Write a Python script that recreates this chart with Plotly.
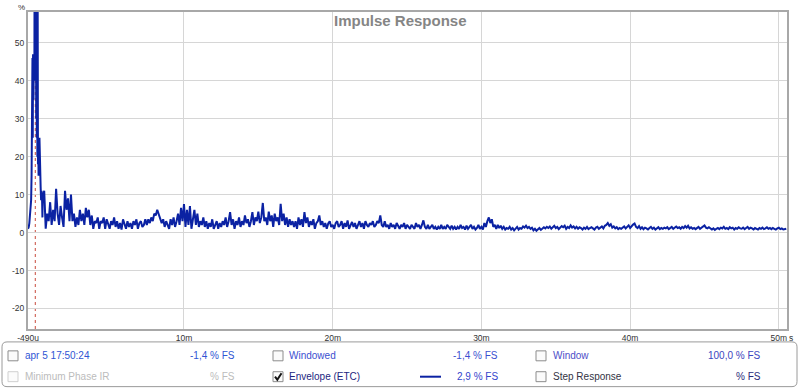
import plotly.graph_objects as go

# ---------------- data ----------------
# time in ms, envelope in %
EARLY_T = [-0.49, -0.44, -0.40, -0.36, -0.32, -0.28, -0.25, -0.23, -0.21, -0.19,
           -0.17, -0.15, -0.12, -0.10, -0.08, -0.06, -0.04, -0.02, 0.00, 0.02,
           0.04, 0.06, 0.08, 0.10, 0.12, 0.14, 0.16, 0.18, 0.20, 0.22,
           0.24, 0.26, 0.28, 0.30, 0.32, 0.34, 0.36, 0.39, 0.42, 0.45, 0.48]
EARLY_V = [1.0, 1.5, 2.5, 4.0, 6.0, 8.5, 15.0, 46.0, 30.0, 46.0,
           25.0, 47.0, 35.0, 46.0, 70.0, 40.0, 95.0, 50.0, 110.0, 45.0,
           90.0, 30.0, 80.0, 25.0, 70.0, 20.0, 62.0, 18.0, 24.0, 15.0,
           24.0, 16.0, 25.0, 18.0, 23.0, 14.0, 12.0, 8.5, 11.0, 10.0, 4.0]

NOISE_T0 = 0.5   # ms, first sample of the tail
NOISE_DT = 0.1   # ms, sample spacing of the tail
NOISE_V = [
    9, 11, 1, 5, 3, 8, 2, 6, 3, 11.5,
    5, 2, 7, 4, 1.5, 11, 6, 9, 3, 10,
    3, 5, 1.5, 4, 2, 6, 3, 5, 2, 6.5,
    4, 6, 2, 4.5, 1, 3, 2.5, 4, 1, 3,
    2.5, 4, 1, 3.5, 2, 1, 3, 2, 4, 1.5,
    3, 1, 2.5, 0.8, 3.5, 2, 1, 3, 1.5, 2.5,
    1, 3, 2, 3.5, 1, 2.5, 3, 1.5, 2, 3.5,
    2, 3.5, 2.5, 4, 3, 5, 4.5, 6, 5, 3.5,
    2.5, 3.5, 1.5, 3, 2, 1, 3.5, 2, 4, 1.5,
    3, 5, 2, 6.5, 3, 7.5, 1.5, 6, 2, 7,
    1, 4, 6, 2, 5, 1.5, 3, 2, 4, 1.5,
    3, 1, 2.5, 1.5, 3.5, 1, 2, 3, 1, 2.5,
    1.5, 3, 2, 4, 1.5, 3, 5.4, 2, 3.5, 1,
    3, 2, 4, 1.5, 3, 2, 4.5, 2.5, 3.5, 1.5,
    3, 5.4, 2, 4, 3, 5.5, 2.5, 4, 7.8, 3,
    4, 2, 5.5, 3, 4.5, 1.5, 5, 3, 4, 2,
    7.6, 3, 5, 2, 4, 1.5, 3.5, 2, 3, 1.5,
    3, 1, 4, 2, 3.5, 1.5, 5.4, 2.5, 4, 1.5,
    3, 2, 3.5, 1, 2.5, 3, 4.5, 2, 3, 1.5,
    2.5, 1, 2.4, 3, 1.5, 2, 1, 2.5, 3, 1.5,
    2, 3, 1, 2.5, 1.5, 3.2, 1, 2, 2.8, 1.5,
    2.5, 1, 2, 3, 1.5, 2.5, 1, 3, 2, 1.5,
    2.5, 2, 3, 1.5, 2, 3, 2.5, 4.5, 2, 1.5,
    3, 1.5, 2, 1, 2.5, 1.5, 2, 1, 2.5, 1.5,
    1, 2, 1.5, 2.5, 1, 2, 1.5, 1, 2, 1.5,
    1, 2.5, 1.5, 2, 1, 2, 3.2, 1.5, 1, 2,
    1, 1.5, 2, 1, 1.5, 0.8, 1.5, 1, 2, 1,
    1.5, 1, 2, 1.5, 1, 1.8, 1, 1.5, 0.8, 1.5,
    1, 2, 1.2, 1.5, 0.8, 1.8, 1, 1.5, 2, 1,
    1.5, 0.8, 1.2, 2, 1, 1.5, 0.8, 2.5, 1.5, 3,
    4, 2.5, 3.5, 1.5, 2, 1, 2, 1.2, 1.8, 1,
    1.5, 0.8, 1.2, 1, 1.5, 0.8, 1.2, 0.6, 1, 1.5,
    0.8, 1.2, 1, 1.6, 1.3, 1.8, 1.2, 1.5, 1, 1.3,
    0.6, 1, 0.5, 0.8, 1.2, 0.7, 1, 1.4, 1.1, 1.5,
    1.2, 1.6, 1, 1.4, 1.8, 1.2, 1.5, 0.9, 1.3, 1.7,
    1.4, 1.8, 1, 1.5, 1.2, 1.9, 1.3, 1.6, 1.1, 1.5,
    1, 1.4, 1.2, 0.8, 1.3, 1, 1.5, 0.9, 1.2, 1.4,
    1.1, 0.8, 1.3, 1.5, 1, 1.2, 1.6, 1.1, 1.8, 2,
    2.5, 1.8, 2.2, 1.3, 1.6, 1.1, 1.4, 0.9, 1.2, 1,
    1.3, 1.6, 1.1, 1.5, 1.9, 1.2, 1.8, 2.1, 2.4, 1.5,
    1.2, 1.7, 1, 1.4, 0.9, 1.3, 1.1, 0.8, 1.2, 1.5,
    1, 1.3, 0.8, 1.1, 1.4, 0.9, 1.2, 1, 1.3, 1.1,
    1.4, 0.9, 1.2, 1.5, 1, 1.3, 1.6, 1.2, 1.4, 1,
    1.5, 1.2, 1.7, 1.3, 1.8, 1.1, 1.4, 1, 1.2, 0.9,
    1.2, 1.5, 1, 1.3, 1.6, 1.9, 1.3, 1.1, 1.4, 1,
    0.8, 1.1, 0.7, 1, 1.2, 0.9, 1.3, 1.1, 1.5, 1,
    1.2, 0.9, 1.4, 1.1, 1.3, 0.8, 1.2, 1, 1.4, 1.1,
    1, 1.3, 0.9, 1.2, 1.5, 1, 1.3, 1.1, 0.8, 1.2,
    1.1, 0.8, 1.2, 1, 1.3, 0.9, 1.1, 1.4, 1, 1.2,
    0.9, 1.2, 1, 0.8, 1.1, 1.3, 0.9, 1.1, 0.8, 1,
    1,
]

X_TICKS = [-0.49, 10, 20, 30, 40, 50]
X_LABELS = ["-490u", "10m", "20m", "30m", "40m", "50m"]
Y_TICKS = [-20, -10, 0, 10, 20, 30, 40, 50]
Y_LABELS = ["-20", "-10", "0", "10", "20", "30", "40", "50"]
X_RANGE = [-0.49, 50.55]
Y_RANGE = [-25.4, 58.1]
MARKER_T = 0.0  # red dotted time-reference line

TITLE = "Impulse Response"

# legend panel texts: (text, row, column-anchor pixel x, anchor, colour)
LEGEND_TEXTS = [
    ("apr 5 17:50:24", 0, 23, "left", "#2f55d4"),
    ("-1,4 % FS", 0, 237, "right", "#2f55d4"),
    ("Windowed", 0, 287, "left", "#3a4fd0"),
    ("-1,4 % FS", 0, 500, "right", "#3a4fd0"),
    ("Window", 0, 551, "left", "#4e4ec8"),
    ("100,0 % FS", 0, 763, "right", "#3a46c0"),
    ("Minimum Phase IR", 1, 23, "left", "#bcbcbc"),
    ("% FS", 1, 237, "right", "#bcbcbc"),
    ("Envelope (ETC)", 1, 287, "left", "#1c2680"),
    ("2,9 % FS", 1, 500, "right", "#3344cc"),
    ("Step Response", 1, 551, "left", "#333344"),
    ("% FS", 1, 763, "right", "#2a2a7a"),
]
# checkboxes: (left px, row, enabled, checked)
CHECKBOXES = [(8, 0, True, False), (273, 0, True, False), (536, 0, True, False),
              (8, 1, False, False), (273, 1, True, True), (536, 1, True, False)]

# ---------------- figure ----------------
W, H = 800, 389
ML, MR, MT, MB = 28, 13, 10, 60
PW, PH = W - ML - MR, H - MT - MB
ROW_Y = [356, 377]

LINE_COLOR = "#0b22a3"


def px(x):
    return (x - ML) / PW


def py(y):
    return (H - MB - y) / PH


t_all = EARLY_T + [round(NOISE_T0 + NOISE_DT * i, 3) for i in range(len(NOISE_V))]
v_all = EARLY_V + NOISE_V

fig = go.Figure()
fig.add_trace(go.Scatter(x=t_all, y=v_all, mode="lines",
                         line=dict(color=LINE_COLOR, width=2),
                         hoverinfo="skip", showlegend=False))

shapes = []
# red dotted reference line
shapes.append(dict(type="line", xref="x", yref="paper", x0=MARKER_T, x1=MARKER_T,
                   y0=0, y1=1, line=dict(color="#c84a3c", width=1, dash="dot"),
                   layer="between"))

# legend panel (rounded rect)
x0, x1, y0, y1, r = 2, 797, 342, 387, 5
path = (f"M {px(x0 + r)},{py(y0)} L {px(x1 - r)},{py(y0)} "
        f"Q {px(x1)},{py(y0)} {px(x1)},{py(y0 + r)} "
        f"L {px(x1)},{py(y1 - r)} Q {px(x1)},{py(y1)} {px(x1 - r)},{py(y1)} "
        f"L {px(x0 + r)},{py(y1)} Q {px(x0)},{py(y1)} {px(x0)},{py(y1 - r)} "
        f"L {px(x0)},{py(y0 + r)} Q {px(x0)},{py(y0)} {px(x0 + r)},{py(y0)} Z")
shapes.append(dict(type="path", xref="paper", yref="paper", path=path,
                   line=dict(color="#9a9a9a", width=1), fillcolor="white", layer="above"))

for (cx, row, enabled, checked) in CHECKBOXES:
    cy = ROW_Y[row]
    shapes.append(dict(type="rect", xref="paper", yref="paper",
                       x0=px(cx), x1=px(cx + 10), y0=py(cy - 5), y1=py(cy + 5),
                       line=dict(color="#8c8c8c" if enabled else "#cfcfcf", width=1),
                       fillcolor="#fbfbfb", layer="above"))
    if checked:
        cpath = (f"M {px(cx + 2)},{py(cy)} L {px(cx + 4.3)},{py(cy + 3)} "
                 f"L {px(cx + 8.5)},{py(cy - 3.5)}")
        shapes.append(dict(type="path", xref="paper", yref="paper", path=cpath,
                           line=dict(color="#151515", width=2), layer="above"))

# legend line sample
shapes.append(dict(type="line", xref="paper", yref="paper",
                   x0=px(420), x1=px(441), y0=py(377), y1=py(377),
                   line=dict(color=LINE_COLOR, width=2), layer="above"))

annotations = []
FONT = "Liberation Sans, Arial, sans-serif"
for (txt, row, ax, anchor, col) in LEGEND_TEXTS:
    annotations.append(dict(text=txt, xref="paper", yref="paper", x=px(ax), y=py(ROW_Y[row]),
                            xanchor=anchor, yanchor="middle", showarrow=False,
                            font=dict(family=FONT, size=10, color=col)))

annotations.append(dict(text="<b>" + TITLE + "</b>", xref="paper", yref="paper",
                        x=px(400), y=py(19), xanchor="center", yanchor="middle",
                        showarrow=False, font=dict(family=FONT, size=15, color="#858585")))
annotations.append(dict(text="%", xref="paper", yref="paper", x=px(21), y=py(5),
                        xanchor="center", yanchor="middle", showarrow=False,
                        font=dict(family=FONT, size=8, color="#333333")))
annotations.append(dict(text="s", xref="paper", yref="paper", x=px(791), y=py(338),
                        xanchor="center", yanchor="middle", showarrow=False,
                        font=dict(family=FONT, size=8.5, color="#333333")))

fig.update_layout(
    width=W, height=H,
    margin=dict(l=ML, r=MR, t=MT, b=MB, pad=0),
    paper_bgcolor="white", plot_bgcolor="white",
    showlegend=False,
    shapes=shapes, annotations=annotations,
    font=dict(family=FONT, size=9, color="#333333"),
    xaxis=dict(range=X_RANGE, tickvals=X_TICKS, ticktext=X_LABELS,
               showgrid=True, gridcolor="#d6d6d6", gridwidth=1, zeroline=False,
               showline=True, mirror=True, linecolor="#a8a8a8", linewidth=2,
               ticks="", tickfont=dict(size=8.5, color="#333333"), fixedrange=True),
    yaxis=dict(range=Y_RANGE, tickvals=Y_TICKS, ticktext=Y_LABELS,
               showgrid=True, gridcolor="#d6d6d6", gridwidth=1, zeroline=False,
               showline=True, mirror=True, linecolor="#a8a8a8", linewidth=2,
               ticks="", tickfont=dict(size=8.5, color="#333333"), fixedrange=True),
)

fig.write_html("out.html", config={"displayModeBar": False},
               post_script="document.body.style.margin='0';")
